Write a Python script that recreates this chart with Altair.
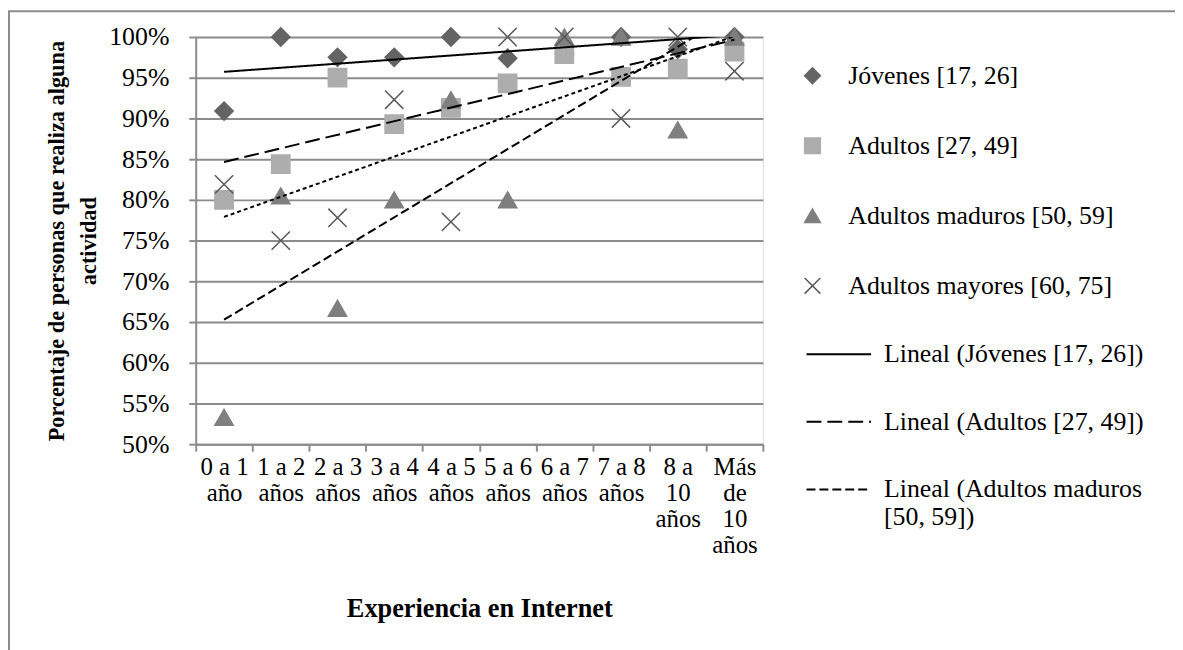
import altair as alt
import pandas as pd

# ---- data ----
categorias = ["0 a 1\naño", "1 a 2\naños", "2 a 3\naños", "3 a 4\naños", "4 a 5\naños",
              "5 a 6\naños", "6 a 7\naños", "7 a 8\naños", "8 a\n10\naños", "Más\nde\n10\naños"]
indices = [1, 2, 3, 4, 5, 6, 7, 8, 9, 10]
series = ["Jóvenes [17, 26]", "Adultos [27, 49]", "Adultos maduros [50, 59]", "Adultos mayores [60, 75]"]
jovenes = [0.909, 1.000, 0.975, 0.975, 1.000, 0.974, 0.980, 1.000, 0.985, 1.000]
adultos = [0.800, 0.844, 0.950, 0.893, 0.913, 0.943, 0.979, 0.951, 0.961, 0.982]
maduros = [0.533, 0.805, 0.667, 0.800, 0.923, 0.800, 1.000, 1.000, 0.886, 1.000]
mayores = [0.819, 0.750, 0.778, 0.923, 0.773, 1.000, 1.000, 0.900, 1.000, 0.958]
tendencias = ["Lineal (" + s + ")" for s in series]
y_ticks = [0.50, 0.55, 0.60, 0.65, 0.70, 0.75, 0.80, 0.85, 0.90, 0.95, 1.00]

colores = ["#646464", "#adadad", "#7f7f7f", "#595959"]
formas = ["diamond", "square", "triangle-up", "M-1,-1L1,1M-1,1L1,-1"]
guiones = [[1, 0], [15, 6], [9, 4], [4, 3]]

rows = []
for s, vals in zip(series, [jovenes, adultos, maduros, mayores]):
    for c, i, v in zip(categorias, indices, vals):
        rows.append({"serie": s, "cat": c, "idx": i, "val": v})
df = pd.DataFrame(rows)
cats_df = pd.DataFrame({"idx": indices, "cat": categorias})

FONT = "Liberation Serif"
GRID = "#8c8c8c"

xscale = alt.Scale(type="band", domain=categorias, paddingInner=0, paddingOuter=0)
yscale = alt.Scale(domain=[0.5, 1.0], nice=False, zero=False)

x_axis = alt.Axis(
    title="Experiencia en Internet", titleFont=FONT, titleFontSize=26.5, titleFontWeight="bold",
    titleColor="black", titleY=165, titleBaseline="middle",
    labelExpr="split(datum.label, '\\n')", labelFont=FONT, labelFontSize=25, labelColor="black",
    labelLineHeight=26, labelBaseline="top", labelPadding=4, labelAngle=0,
    tickBand="extent", tickSize=7, tickColor=GRID, tickWidth=2,
    domainColor=GRID, domainWidth=2, grid=False,
)
y_axis = alt.Axis(
    title=["Porcentaje de personas que realiza alguna", "actividad"],
    titleFont=FONT, titleFontSize=22.5, titleFontWeight="bold", titleColor="black",
    titleLineHeight=32, titleX=-128, titleY=205, titleAlign="center", titleBaseline="bottom",
    values=y_ticks, format=".0%", labelFont=FONT, labelFontSize=26, labelColor="black",
    labelPadding=20, tickSize=7, tickColor=GRID, tickWidth=2,
    domainColor=GRID, domainWidth=2, grid=True, gridColor=GRID, gridWidth=2,
)

leg_series = alt.Legend(
    title=None, orient="none", legendX=608, legendY=26, padding=0,
    symbolSize=250, symbolStrokeWidth=1.5, labelFont=FONT, labelFontSize=26,
    labelColor="black", labelOffset=23, rowPadding=44.5, labelLimit=500,
)
leg_trend = alt.Legend(
    title=None, orient="none", legendX=614, legendY=286, padding=0,
    values=tendencias[:3], symbolType="stroke", symbolSize=4225, symbolStrokeWidth=2,
    symbolStrokeColor="black", labelFont=FONT, labelFontSize=26, labelColor="black",
    labelOffset=12, rowPadding=21, labelLimit=500,
    labelExpr="datum.label == 'Lineal (Adultos maduros [50, 59])' ? "
              "['Lineal (Adultos maduros', '[50, 59])'] : datum.label",
)

borde = alt.Chart(pd.DataFrame({"b": [0]})).mark_rect(
    fill="transparent", stroke=GRID, strokeWidth=2
).encode(x=alt.value(-188), x2=alt.value(1000), y=alt.value(-26), y2=alt.value(700))

puntos = alt.Chart(df).mark_point(filled=True, size=340, strokeWidth=1.5, opacity=1).encode(
    x=alt.X("cat:N", scale=xscale, sort=categorias, axis=x_axis),
    y=alt.Y("val:Q", scale=yscale, axis=y_axis),
    shape=alt.Shape("serie:N", scale=alt.Scale(domain=series, range=formas), legend=leg_series),
    fill=alt.Fill("serie:N", scale=alt.Scale(domain=series, range=colores), legend=leg_series),
    stroke=alt.Stroke("serie:N", scale=alt.Scale(domain=series, range=colores), legend=leg_series),
)

lineas = alt.Chart(df).transform_regression(
    "idx", "val", groupby=["serie"], extent=[1, 10]
).transform_lookup(
    lookup="idx", from_=alt.LookupData(data=cats_df, key="idx", fields=["cat"])
).transform_calculate(
    trend="'Lineal (' + datum.serie + ')'"
).mark_line(color="black", strokeWidth=2, clip=True).encode(
    x=alt.X("cat:N", scale=xscale, sort=categorias),
    y=alt.Y("val:Q", scale=yscale),
    strokeDash=alt.StrokeDash("trend:N", scale=alt.Scale(domain=tendencias, range=guiones),
                              legend=leg_trend),
    detail="serie:N",
)

chart = alt.layer(borde, puntos, lineas).properties(
    width=571, height=410,
    padding={"left": 189, "top": 27, "right": 415, "bottom": 205},
    autosize=alt.AutoSizeParams(type="none"),
).configure_view(stroke=None).configure(font=FONT)

chart.save("out.html", embed_options={"renderer": "svg", "actions": False})
